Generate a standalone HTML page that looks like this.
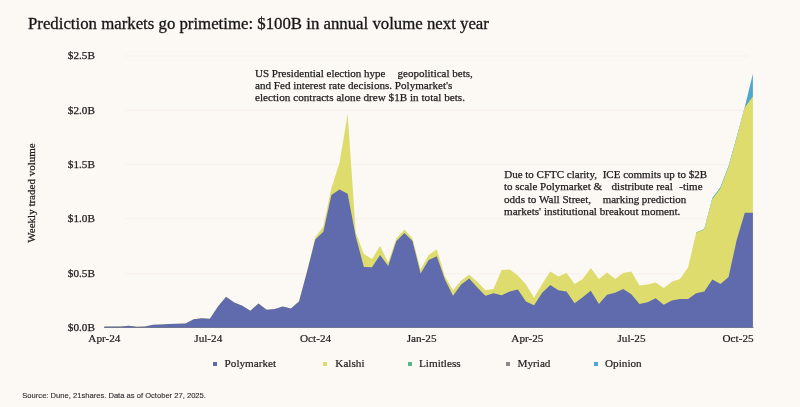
<!DOCTYPE html>
<html><head><meta charset="utf-8"><title>Prediction markets go primetime</title>
<style>
html,body{margin:0;padding:0;background:#fcf8f4}
body{width:800px;height:407px;position:relative;overflow:hidden;background:#fcf8f4;font-family:"Liberation Serif",serif;color:#1c1c1c}
div{position:absolute;white-space:pre;line-height:1.15}
.ttl{font-size:16.8px;color:#161616;-webkit-text-stroke:0.3px #161616}
.a{font-size:11.1px;color:#1e1e1e;-webkit-text-stroke:0.25px #1e1e1e}
.yl{font-size:11.2px;color:#1e1e1e;-webkit-text-stroke:0.25px #1e1e1e}
.xl{font-size:11.2px;color:#1e1e1e;-webkit-text-stroke:0.2px #1e1e1e}
.lg{font-size:11.2px;color:#1e1e1e;-webkit-text-stroke:0.2px #1e1e1e}
.src{font-family:"Liberation Sans",sans-serif;font-size:7.6px;color:#2e2e2e;-webkit-text-stroke:0.12px #2e2e2e}
.yt{font-size:11.03px;left:30.8px;top:193.1px;transform:translate(-50%,-50%) rotate(-90deg);color:#1e1e1e;-webkit-text-stroke:0.25px #1e1e1e}
</style></head><body>
<svg width="800" height="407" viewBox="0 0 800 407" style="position:absolute;left:0;top:0;filter:blur(0.45px)">
<line x1="125" x2="748" y1="56" y2="56" stroke="#f8f0ec" stroke-width="1"/><line x1="125" x2="748" y1="110.2" y2="110.2" stroke="#f8f0ec" stroke-width="1"/><line x1="125" x2="748" y1="164.5" y2="164.5" stroke="#f8f0ec" stroke-width="1"/><line x1="125" x2="748" y1="218.7" y2="218.7" stroke="#f8f0ec" stroke-width="1"/><line x1="125" x2="748" y1="273.9" y2="273.9" stroke="#f8f0ec" stroke-width="1"/>
<polygon points="696.17,232.6 704.27,229 712.38,198 720.48,187 728.59,166 736.69,137 744.8,106.9 752.9,73.8 752.9,96.19999999999999 744.8,108.0 736.69,138.2 728.59,167.1 720.48,188.0 712.38,199.0 704.27,230.2 696.17,233.2" fill="#4fa6cf"/>
<polygon points="696.17,232.6 704.27,229.6 712.38,198.4 720.48,187.4 728.59,166.5 736.69,137.6 744.8,107.4 752.9,95.6 752.9,97.0 744.8,108.39999999999999 736.69,138.79999999999998 728.59,167.9 720.48,189.1 712.38,199.9 704.27,230.2 696.17,233.2" fill="#58b58a"/>
<polygon points="104.5,327.2 104.5,326.5 112.61,326.5 120.71,326.5 128.81,325.7 136.92,326.7 145.03,326.5 153.13,324.7 161.24,324.4 169.34,324.1 177.44,323.8 185.55,323.5 193.66,319.2 201.76,318.2 209.87,318.7 217.97,306.4 226.07,296.7 234.18,302.5 242.28,305.7 250.39,310.7 258.5,303.4 266.6,309.7 274.71,309 282.81,306.5 290.92,308.4 299.02,301.0 307.12,270.8 315.23,237.5 323.34,226.4 331.44,188 339.55,162.7 347.65,113.9 355.75,232.5 363.86,254 371.97,259 380.07,246 388.18,262.6 396.28,238.5 404.38,229.5 412.49,238.5 420.6,269.5 428.7,255 436.81,249.2 444.91,276.4 453.02,290.2 461.12,280.5 469.23,274.8 477.33,281.8 485.44,290.2 493.54,288.9 501.65,270.1 509.75,269.6 517.86,275.6 525.96,284.6 534.07,297.7 542.17,283.9 550.28,271.4 558.38,276.4 566.49,273.1 574.59,283.9 582.7,278.9 590.8,268.1 598.9,278.9 607.01,272.6 615.12,278.9 623.22,273.1 631.33,271.4 639.43,285.6 647.54,284.6 655.64,282.6 663.75,288.1 671.85,281.8 679.96,278.9 688.06,267.6 696.17,232.6 704.27,229.6 712.38,199.3 720.48,188.5 728.59,167.3 736.69,138.2 744.8,107.8 752.9,96.4 752.9,327.2" fill="#dddc6c"/>
<polygon points="104.5,327.2 104.5,326.5 112.61,326.5 120.71,326.5 128.81,325.7 136.92,326.7 145.03,326.5 153.13,324.7 161.24,324.4 169.34,324.1 177.44,323.8 185.55,323.5 193.66,319.2 201.76,318.2 209.87,318.7 217.97,306.4 226.07,296.7 234.18,302.5 242.28,305.7 250.39,310.7 258.5,303.4 266.6,309.7 274.71,309 282.81,306.5 290.92,308.4 299.02,301.4 307.12,271.4 315.23,239.5 323.34,231.7 331.44,195 339.55,189.5 347.65,193.8 355.75,236.4 363.86,267 371.97,267.3 380.07,255 388.18,266 396.28,241.3 404.38,233 412.49,241 420.6,273.5 428.7,260 436.81,256.3 444.91,279.5 453.02,295.7 461.12,284.5 469.23,278.5 477.33,287.6 485.44,295.7 493.54,293.2 501.65,295.2 509.75,291.4 517.86,289.6 525.96,301.4 534.07,305.2 542.17,292.7 550.28,285.1 558.38,290.2 566.49,291.4 574.59,303.2 582.7,297.2 590.8,290.7 598.9,303.9 607.01,294.7 615.12,292.7 623.22,288.9 631.33,294.3 639.43,303.9 647.54,302.2 655.64,298.2 663.75,304.7 671.85,300.5 679.96,298.9 688.06,298.9 696.17,293.2 704.27,291.4 712.38,279.6 720.48,283.9 728.59,277.1 736.69,240 744.8,212.7 752.9,212.7 752.9,327.2" fill="#5f6bad"/>
<line x1="104" x2="753.5" y1="327.6" y2="327.6" stroke="#4b5280" stroke-width="0.8"/>
</svg>
<div class="ttl" style="left:28.0px;top:13.6px;">Prediction markets go primetime: $100B in annual volume next year</div><div class="yl" style="left:67.8px;top:49.3px;">$2.5B</div><div class="yl" style="left:67.8px;top:103.5px;">$2.0B</div><div class="yl" style="left:67.8px;top:157.8px;">$1.5B</div><div class="yl" style="left:67.8px;top:212.0px;">$1.0B</div><div class="yl" style="left:67.8px;top:267.2px;">$0.5B</div><div class="yl" style="left:67.8px;top:320.5px;">$0.0B</div><div class="xl" style="left:88.3px;top:331.7px;">Apr-24</div><div class="xl" style="left:194.3px;top:331.7px;">Jul-24</div><div class="xl" style="left:300px;top:331.7px;">Oct-24</div><div class="xl" style="left:406.7px;top:331.7px;">Jan-25</div><div class="xl" style="left:511.3px;top:331.7px;">Apr-25</div><div class="xl" style="left:617.5px;top:331.7px;">Jul-25</div><div class="xl" style="left:722.5px;top:331.7px;">Oct-25</div><div class="a" style="left:255.0px;top:66.6px;font-size:11px">US Presidential election hype</div><div class="a" style="left:397.6px;top:66.6px;font-size:11px">geopolitical bets,</div><div class="a" style="left:255.0px;top:78.7px;">and Fed interest rate decisions. Polymarket's</div><div class="a" style="left:255.0px;top:91.1px;font-size:11.2px">election contracts alone drew $1B in total bets.</div><div class="a" style="left:504.2px;top:168px;font-size:11px">Due to CFTC clarity,</div><div class="a" style="left:602.7px;top:168px;font-size:11px">ICE commits up to $2B</div><div class="a" style="left:504px;top:180.3px;font-size:11px">to scale Polymarket &amp;</div><div class="a" style="left:611.5px;top:180.3px;">distribute real</div><div class="a" style="left:679.3px;top:180.3px;font-size:11px">-time</div><div class="a" style="left:504px;top:192.6px;">odds to Wall Street,</div><div class="a" style="left:602.7px;top:192.6px;font-size:10.95px">marking prediction</div><div class="a" style="left:504px;top:205.2px;">markets' institutional breakout moment.</div><div style="position:absolute;left:212.6px;top:361.6px;width:4px;height:4px;background:#5f6bad"></div><div class="lg" style="left:224.6px;top:356.5px;">Polymarket</div><div style="position:absolute;left:323px;top:361.6px;width:4px;height:4px;background:#dddc6c"></div><div class="lg" style="left:335.3px;top:356.5px;">Kalshi</div><div style="position:absolute;left:408px;top:361.6px;width:4px;height:4px;background:#58b58a"></div><div class="lg" style="left:419px;top:356.5px;">Limitless</div><div style="position:absolute;left:506px;top:361.6px;width:4px;height:4px;background:#8a8a8a"></div><div class="lg" style="left:517.5px;top:356.5px;">Myriad</div><div style="position:absolute;left:594px;top:361.6px;width:4px;height:4px;background:#4fa6cf"></div><div class="lg" style="left:605px;top:356.5px;">Opinion</div><div class="src" style="left:22.3px;top:392.0px;">Source: Dune, 21shares. Data as of October 27, 2025.</div><div class="yt">Weekly traded volume</div>
</body></html>
